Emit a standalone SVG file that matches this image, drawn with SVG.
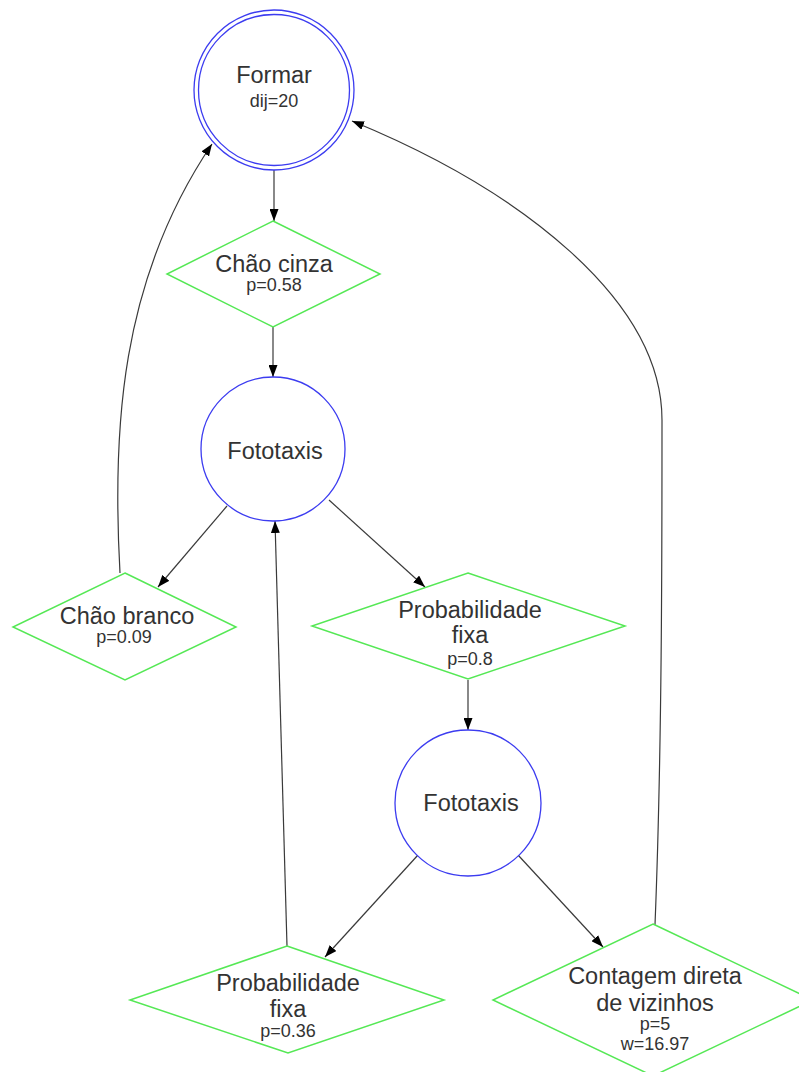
<svg xmlns="http://www.w3.org/2000/svg" width="799" height="1072" viewBox="0 0 799 1072">
  <defs>
    <marker id="arrow" viewBox="0 0 12 9" refX="12" refY="4.5" markerWidth="12" markerHeight="9" markerUnits="userSpaceOnUse" orient="auto">
      <path d="M0,0 L12,4.5 L0,9 z" fill="#000"/>
    </marker>
    <style>
      .state { fill: #fff; stroke: #3c3cf0; stroke-width: 1.3; }
      .cond { fill: #fff; stroke: #55e855; stroke-width: 1.5; }
      .edge { fill: none; stroke: #3a3a3a; stroke-width: 1.2; marker-end: url(#arrow); }
      .big { font-family: "Liberation Sans", Arial, sans-serif; font-size: 23.5px; fill: #333; text-anchor: middle; }
      .small { font-family: "Liberation Sans", Arial, sans-serif; font-size: 18px; fill: #333; text-anchor: middle; }
    </style>
  </defs>
  <rect width="799" height="1072" fill="#fff"/>

  <g id="connectors">
    <path class="edge" d="M274,170 L274,221"/>
    <path class="edge" d="M273,327 L273,377"/>
    <path class="edge" d="M227,506 L158,587"/>
    <path class="edge" d="M329,500 L425,587"/>
    <path class="edge" d="M468,680 L468,730"/>
    <path class="edge" d="M418,855 L325,957"/>
    <path class="edge" d="M518,855 L603,947"/>
    <path class="edge" d="M287,946 L275,521"/>
    <path class="edge" d="M120,573 C112,430 120,280 212,144"/>
    <path class="edge" d="M655,925 C662,750 662,550 662,420 C662,300 520,190 352,121"/>
  </g>

  <g id="formar">
    <circle class="state" cx="274" cy="90" r="80"/>
    <circle class="state" cx="274" cy="90" r="75.5"/>
    <text class="big" x="274" y="83">Formar</text>
    <text class="small" x="274" y="107">dij=20</text>
  </g>

  <g id="chao-cinza">
    <polygon class="cond" points="273,221 380,274 273,327 167,274"/>
    <text class="big" x="274" y="272">Chão cinza</text>
    <text class="small" x="274" y="291">p=0.58</text>
  </g>

  <g id="fototaxis-1">
    <circle class="state" cx="273" cy="449" r="72"/>
    <text class="big" x="275" y="459">Fototaxis</text>
  </g>

  <g id="chao-branco">
    <polygon class="cond" points="125,573 236,627 125,680 13,627"/>
    <text class="big" x="127" y="624">Chão branco</text>
    <text class="small" x="124" y="643">p=0.09</text>
  </g>

  <g id="probabilidade-fixa-1">
    <polygon class="cond" points="468,573 625,626 468,679 312,626"/>
    <text class="big" x="470" y="618">Probabilidade</text>
    <text class="big" x="470" y="643">fixa</text>
    <text class="small" x="470" y="665">p=0.8</text>
  </g>

  <g id="fototaxis-2">
    <circle class="state" cx="468" cy="803" r="73"/>
    <text class="big" x="471" y="811">Fototaxis</text>
  </g>

  <g id="probabilidade-fixa-2">
    <polygon class="cond" points="287,946 444,1000 288,1053 130,1000"/>
    <text class="big" x="288" y="991">Probabilidade</text>
    <text class="big" x="288" y="1017">fixa</text>
    <text class="small" x="288" y="1037">p=0.36</text>
  </g>

  <g id="contagem-direta">
    <polygon class="cond" points="653,924 813,1000 653,1076 493,1000"/>
    <text class="big" x="655" y="984">Contagem direta</text>
    <text class="big" x="655" y="1011">de vizinhos</text>
    <text class="small" x="655" y="1030">p=5</text>
    <text class="small" x="655" y="1050">w=16.97</text>
  </g>
</svg>
